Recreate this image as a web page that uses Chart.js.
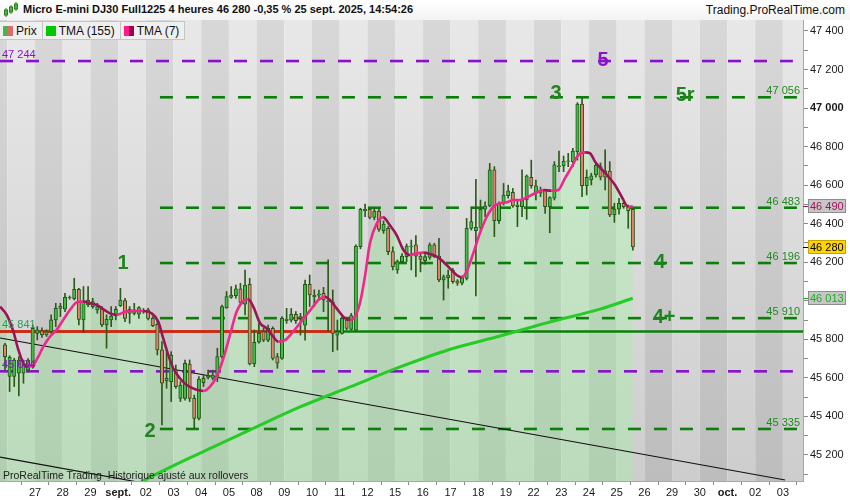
<!DOCTYPE html>
<html>
<head>
<meta charset="utf-8">
<script src="https://cdn.jsdelivr.net/npm/chart.js@4.4.1/dist/chart.umd.min.js"></script>
<style>
  html, body { margin: 0; padding: 0; background: #fff; }
  #wrap { position: relative; width: 850px; height: 500px; overflow: hidden; font-family: "Liberation Sans", Arial, sans-serif; color: #111; }
  #chart { position: absolute; left: 0; top: 0; }
  #head { position: absolute; left: 0; top: 0; width: 850px; height: 20px; background: linear-gradient(#ffffff, #f3f3f3); font-size: 12px; }
  #ico { position: absolute; left: 4px; top: 1px; }
  #title { position: absolute; left: 23px; top: 3px; font-weight: bold; font-size: 11px; white-space: nowrap; }
  #site { position: absolute; right: 5px; top: 3px; white-space: nowrap; }
  #legend { position: absolute; left: 0; top: 21px; height: 19px; display: flex; font-size: 12px; }
  .tab { display: flex; align-items: center; height: 17px; padding: 0 5px 0 3px; background: #efefef; border: 1px solid #c4c4c4; border-left: none; white-space: nowrap; }
  .sw { display: inline-flex; width: 10px; height: 10px; margin-right: 3px; }
  .sw i { flex: 1; }
  #foot { position: absolute; left: 3px; top: 469px; font-size: 10.5px; white-space: nowrap; color: #222; }
</style>
</head>
<body>
<div id="wrap">
  <canvas id="chart" width="850" height="500"></canvas>
  <div id="head">
    <svg id="ico" width="14" height="17" viewBox="0 0 14 17">
      <line x1="2" y1="7" x2="2" y2="16" stroke="#2e7d1e"/><rect x="0.5" y="9" width="3" height="5" fill="#3cbf3c" stroke="#2e7d1e"/>
      <line x1="7" y1="4" x2="7" y2="13" stroke="#2e7d1e"/><rect x="5.5" y="6" width="3" height="5" fill="#3cbf3c" stroke="#2e7d1e"/>
      <line x1="12" y1="1" x2="12" y2="10" stroke="#2e7d1e"/><rect x="10.5" y="3" width="3" height="5" fill="#3cbf3c" stroke="#2e7d1e"/>
    </svg>
    <span id="title">Micro E-mini DJ30 Full1225 4 heures 46 280 -0,35 % 25 sept. 2025, 14:54:26</span>
    <span id="site">Trading.ProRealTime.com</span>
  </div>
  <div id="legend">
    <div class="tab"><span class="sw"><i style="background:#4cb44c"></i><i style="background:#e06a6a"></i></span>Prix</div>
    <div class="tab"><span class="sw"><i style="background:#00c800"></i></span>TMA (155)</div>
    <div class="tab"><span class="sw"><i style="background:#ff1a8c"></i><i style="background:#a0004e"></i></span>TMA (7)</div>
  </div>
  <div id="foot">ProRealTime Trading &nbsp;Historique ajusté aux rollovers</div>
</div>
<script>
const FONT = '"Liberation Sans", Arial, sans-serif';

// trading days on the time axis (27 Aug -> 3 Oct), one tick per day start
const dayLabels = ['27', '28', '29', 'sept.', '02', '03', '04', '05', '08', '09', '10', '11', '12', '15',
  '16', '17', '18', '19', '22', '23', '24', '25', '26', '29', '30', 'oct.', '02', '03'];
const priceTicks = [45100, 45200, 45300, 45400, 45500, 45600, 45700, 45800, 45900, 46000, 46100, 46200,
  46300, 46400, 46500, 46600, 46700, 46800, 46900, 47000, 47100, 47200, 47300, 47400];

// 4h candles, six per day, first one is the last bar of 25 Aug
const opens = [
  45771, 45607, 45607, 45624, 45624, 45641, 45658, 45831, 45844, 45823,
  45840, 45901, 45960, 45956, 46016, 46011, 46060, 45901, 45978, 45970,
  45953, 45961, 45875, 45901, 45927, 45975, 46001, 45935, 45935, 45930,
  45950, 45953, 45909, 45878, 45745, 45584, 45581, 45641, 45494, 45494,
  45672, 45494, 45390, 45575, 45602, 45598, 45598, 45710, 45965, 46017,
  46027, 46062, 45982, 46086, 45672, 45785, 45840, 45796, 45857, 45710,
  45701, 45897, 45900, 45930, 45909, 45874, 46086, 46022, 46029, 46039,
  45995, 45995, 45822, 45831, 45900, 45852, 45848, 46281, 46468, 46475,
  46433, 46466, 46364, 46376, 46255, 46160, 46203, 46229, 46280, 46290,
  46232, 46208, 46225, 46290, 46232, 46108, 46120, 46160, 46103, 46091,
  46116, 46376, 46364, 46381, 46475, 46492, 46679, 46416, 46509, 46545,
  46563, 46489, 46489, 46523, 46641, 46558, 46558, 46575, 46489, 46532,
  46696, 46700, 46723, 46722, 46774, 47021, 46597, 46627, 46653, 46696,
  46675, 46673, 46445, 46476, 46506, 46489, 46475];
const highs = [
  45779, 45715, 45702, 45710, 45693, 45700, 45875, 45866, 45860, 45850,
  45927, 45987, 45987, 46039, 46025, 46117, 46065, 46074, 46074, 46013,
  45987, 45970, 45927, 45970, 45970, 46065, 46013, 45970, 45987, 45970,
  45960, 45961, 45918, 45901, 45788, 45736, 45736, 45667, 45581, 45693,
  45693, 45511, 45607, 45615, 45640, 45640, 45754, 45978, 46048, 46074,
  46082, 46091, 46160, 46117, 45849, 45883, 45857, 45874, 45865, 45727,
  45918, 45961, 45960, 45944, 45935, 46108, 46134, 46057, 46056, 46070,
  46212, 46056, 45900, 45918, 45915, 45935, 46290, 46480, 46502, 46480,
  46480, 46475, 46415, 46385, 46280, 46212, 46245, 46295, 46315, 46338,
  46245, 46240, 46300, 46298, 46324, 46134, 46160, 46168, 46110, 46128,
  46428, 46488, 46630, 46523, 46514, 46713, 46696, 46514, 46609, 46600,
  46583, 46523, 46679, 46653, 46730, 46627, 46590, 46578, 46540, 46722,
  46777, 46751, 46765, 46791, 47028, 47050, 46679, 46662, 46710, 46715,
  46783, 46722, 46506, 46532, 46515, 46497, 46480];
const lows = [
  45641, 45529, 45555, 45506, 45572, 45630, 45650, 45797, 45810, 45815,
  45831, 45866, 45918, 45944, 46008, 46004, 45875, 45835, 45970, 45961,
  45935, 45866, 45754, 45866, 45901, 45970, 45892, 45883, 45927, 45909,
  45935, 45901, 45866, 45719, 45356, 45546, 45477, 45546, 45477, 45485,
  45477, 45338, 45382, 45555, 45595, 45590, 45580, 45701, 45961, 46013,
  46013, 45982, 45927, 45667, 45658, 45780, 45788, 45788, 45693, 45650,
  45696, 45883, 45890, 45883, 45822, 45796, 45970, 45970, 46004, 45944,
  45840, 45736, 45745, 45827, 45850, 45848, 45840, 46270, 46437, 46425,
  46420, 46360, 46350, 46240, 46160, 46142, 46195, 46203, 46160, 46125,
  46150, 46190, 46215, 46225, 46099, 46004, 46065, 46091, 46080, 46082,
  46108, 46367, 46025, 46367, 46436, 46488, 46333, 46402, 46497, 46532,
  46485, 46385, 46437, 46423, 46584, 46523, 46540, 46454, 46353, 46523,
  46670, 46670, 46696, 46696, 46730, 46540, 46549, 46601, 46641, 46627,
  46575, 46437, 46407, 46450, 46480, 46376, 46263];
const closes = [
  45710, 45707, 45693, 45693, 45667, 45693, 45857, 45849, 45823, 45840,
  45901, 45961, 45973, 46018, 46018, 46060, 45904, 45996, 46004, 45996,
  45970, 45875, 45904, 45921, 45956, 46004, 45909, 45956, 45953, 45965,
  45945, 45909, 45871, 45745, 45572, 45598, 45719, 45555, 45563, 45676,
  45494, 45390, 45594, 45598, 45612, 45615, 45710, 45970, 46022, 46030,
  46062, 45992, 46082, 45672, 45785, 45831, 45796, 45857, 45701, 45676,
  45909, 45905, 45930, 45897, 45918, 46086, 46030, 46028, 46035, 46004,
  46000, 45831, 45840, 45909, 45857, 45923, 46284, 46475, 46475, 46433,
  46466, 46371, 46398, 46255, 46177, 46203, 46232, 46284, 46284, 46232,
  46215, 46229, 46290, 46229, 46108, 46125, 46134, 46099, 46091, 46120,
  46376, 46411, 46381, 46475, 46492, 46679, 46416, 46506, 46549, 46570,
  46492, 46497, 46523, 46648, 46597, 46597, 46570, 46489, 46535, 46705,
  46700, 46725, 46726, 46777, 47021, 46597, 46641, 46648, 46703, 46641,
  46641, 46445, 46476, 46506, 46489, 46468, 46280];

// TMA(7) (x in trading days from 27 Aug)
const tma7Days = [-1.26, -1.02, -0.78, -0.60, -0.42, -0.24, -0.06, 0.12, 0.30, 0.54, 0.78, 1.02, 1.26, 1.51,
  1.74, 1.99, 2.23, 2.47, 2.71, 2.95, 3.19, 3.43, 3.91, 4.21, 4.45, 4.63, 4.81, 4.99, 5.23, 5.48, 5.78, 6.08,
  6.32, 6.56, 6.80, 7.04, 7.28, 7.52, 7.70, 7.88, 8.12, 8.36, 8.60, 8.78, 9.03, 9.27, 9.51, 9.75, 9.99, 10.23,
  10.47, 10.65, 10.89, 11.13, 11.37, 11.55, 11.73, 11.91, 12.09, 12.34, 12.57, 12.82, 13.06, 13.30, 13.54,
  13.78, 14.02, 14.26, 14.50, 14.74, 14.98, 15.22, 15.40, 15.58, 15.82, 16.06, 16.31, 16.55, 16.79, 17.03,
  17.27, 17.51, 17.69, 18.05, 18.35, 18.65, 18.89, 19.13, 19.38, 19.61, 19.86, 20.04, 20.22, 20.46, 20.70,
  20.94, 21.18, 21.42, 21.58];
const tma7Vals = [45970, 45927, 45840, 45745, 45676, 45658, 45667, 45710, 45762, 45814, 45849, 45901, 45952,
  45992, 45996, 45987, 45978, 45956, 45935, 45927, 45939, 45947, 45947, 45935, 45892, 45805, 45719, 45650,
  45598, 45563, 45541, 45532, 45555, 45607, 45702, 45823, 45944, 45999, 46008, 45970, 45885, 45857, 45814,
  45788, 45796, 45831, 45874, 45918, 45961, 46004, 46021, 46004, 45961, 45918, 45900, 45918, 45987, 46125,
  46298, 46402, 46433, 46390, 46340, 46264, 46238, 46246, 46250, 46243, 46229, 46203, 46168, 46134, 46122,
  46151, 46246, 46350, 46436, 46488, 46506, 46511, 46523, 46523, 46532, 46558, 46575, 46571, 46575, 46635,
  46696, 46756, 46770, 46765, 46722, 46682, 46644, 46601, 46540, 46488, 46490];

// TMA(155)
const tma155Days = [3.60, 3.97, 5.96, 7.76, 9.57, 11.37, 13.18, 14.91, 16.79, 18.59, 20.40, 21.58];
const tma155Vals = [45040, 45070, 45210, 45330, 45449, 45553, 45657, 45745, 45817, 45890, 45957, 46013];

// drawn levels
const greenLevels = [47056, 46483, 46196, 45910, 45335];
const purpleLevels = [47244, 45634];
const supportLevel = 45841;
const trendA = [[-1.26, 45807], [27.08, 45070]];
const trendB = [[-1.26, 45189], [27.7, 44436]];

// wave count marks
const waveText = ['1', '2', '3', '4', '4+', '5', '5r'];
const waveDays = [3.18, 4.15, 18.81, 22.56, 22.71, 20.51, 23.47];
const waveVals = [46196, 45324, 47078, 46201, 45911, 47249, 47063];

const X_MIN = -1.2635, X_MAX = 27.726, Y_MIN = 45065, Y_MAX = 47457;
const GREEN = '#0a800a', PURPLE = '#8a10cc';

const fmt = (v) => String(Math.round(v)).replace(/\B(?=(\d{3})+(?!\d))/g, ' ');

const candleX = closes.map((c, n) => (n - 6.5) / 6);
const pts = (xs, ys) => xs.map((x, i) => ({ x, y: ys[i] }));

function level(v, from, to, color, dash, order) {
  return {
    type: 'line', data: [{ x: from, y: v }, { x: to, y: v }], borderColor: color, borderWidth: 2.6,
    borderDash: dash, pointRadius: 0, fill: false, order
  };
}

const datasets = [
  { type: 'line', data: pts(tma7Days, tma7Vals), borderWidth: 0, pointRadius: 0, fill: 'start',
    backgroundColor: 'rgba(150,250,150,0.3)', cubicInterpolationMode: 'monotone', order: 20 },
  ...greenLevels.map(v => level(v, 4.51, 27.51, GREEN, [13, 13], 12)),
  ...purpleLevels.map(v => level(v, X_MIN, 27.36, PURPLE, [13, 13], 12)),
  level(supportLevel, X_MIN, X_MAX, GREEN, [], 13),
  level(supportLevel, X_MIN, 10.83, '#ff1010', [], 11),
  { type: 'line', data: trendA.map(p => ({ x: p[0], y: p[1] })), borderColor: '#111', borderWidth: 1.1, pointRadius: 0, order: 10 },
  { type: 'line', data: trendB.map(p => ({ x: p[0], y: p[1] })), borderColor: '#111', borderWidth: 1.1, pointRadius: 0, order: 10 },
  { type: 'bar', data: candleX.map((x, i) => ({ x, y: [lows[i], highs[i]] })), backgroundColor: '#2c5a18',
    barThickness: 1, grouped: false, order: 5 },
  { type: 'bar', data: candleX.map((x, i) => ({ x, y: [opens[i], closes[i]] })),
    backgroundColor: closes.map((c, i) => c >= opens[i] ? '#3fbf3f' : '#e97e6c'),
    borderColor: '#22561a', borderWidth: 1, borderSkipped: false, barThickness: 3.4, grouped: false, order: 4 },
  { type: 'line', data: pts(tma155Days, tma155Vals), borderColor: '#25cc25', borderWidth: 3, pointRadius: 0,
    cubicInterpolationMode: 'monotone', order: 2 },
  { type: 'line', data: pts(tma7Days, tma7Vals), borderWidth: 2.6, pointRadius: 0, cubicInterpolationMode: 'monotone',
    borderColor: '#f0288c',
    segment: { borderColor: (c) => c.p1.parsed.y >= c.p0.parsed.y ? '#f0288c' : '#9c1458' }, order: 1 }
];

const backdrop = {
  id: 'backdrop',
  beforeDraw(chart) {
    const { ctx, chartArea: a, scales: { x } } = chart;
    ctx.save();
    ctx.fillStyle = '#fff';
    ctx.fillRect(0, 0, chart.width, chart.height);
    const light = ctx.createLinearGradient(0, a.top, 0, a.bottom);
    light.addColorStop(0, '#e8e8e8'); light.addColorStop(1, '#cdcdcd');
    const dark = ctx.createLinearGradient(0, a.top, 0, a.bottom);
    dark.addColorStop(0, '#d8d8d8'); dark.addColorStop(1, '#bdbdbd');
    ctx.beginPath(); ctx.rect(a.left, a.top, a.width, a.height); ctx.clip();
    for (let k = -2; k <= dayLabels.length; k++) {
      const x0 = x.getPixelForValue(k), x1 = x.getPixelForValue(k + 1);
      ctx.fillStyle = Math.abs(k % 2) === 1 ? light : dark;
      ctx.fillRect(x0, a.top, x1 - x0, a.height);
    }
    ctx.restore();
  }
};

const annotate = {
  id: 'annotate',
  afterDraw(chart) {
    const { ctx, chartArea: a, scales: { x, y } } = chart;
    ctx.save();
    ctx.font = '11px ' + FONT;
    ctx.textBaseline = 'alphabetic';
    ctx.textAlign = 'right';
    ctx.fillStyle = '#208a20';
    greenLevels.forEach(v => ctx.fillText(fmt(v), a.right - 3, y.getPixelForValue(v) - 3));
    ctx.textAlign = 'left';
    [[purpleLevels[0], PURPLE], [supportLevel, '#2c9a5c'], [purpleLevels[1], PURPLE]].forEach(([v, c]) => {
      ctx.fillStyle = c;
      ctx.fillText(fmt(v), a.left + 2, y.getPixelForValue(v) - 3);
    });

    ctx.font = 'bold 20px ' + FONT;
    ctx.textAlign = 'center';
    ctx.textBaseline = 'middle';
    waveText.forEach((t, i) => {
      ctx.fillStyle = t === '5' ? PURPLE : '#1f841f';
      ctx.fillText(t, x.getPixelForValue(waveDays[i]), y.getPixelForValue(waveVals[i]));
    });

    const boxes = [
      { v: tma7Vals[tma7Vals.length - 1], fill: '#c6c6c6', edge: '#8e8e8e', text: '#a3125e' },
      { v: closes[closes.length - 1], fill: '#ffd400', edge: '#c9a400', text: '#000' },
      { v: tma155Vals[tma155Vals.length - 1], fill: '#c6c6c6', edge: '#8e8e8e', text: '#18b018' }
    ];
    ctx.font = '11px ' + FONT;
    ctx.textAlign = 'left';
    boxes.forEach(b => {
      const py = Math.round(y.getPixelForValue(b.v));
      ctx.strokeStyle = b.text;
      ctx.lineWidth = 1;
      ctx.beginPath(); ctx.moveTo(a.right, py + 0.5); ctx.lineTo(a.right + 5, py + 0.5); ctx.stroke();
      ctx.fillStyle = b.fill;
      ctx.fillRect(a.right + 5, py - 7, 38, 14);
      ctx.strokeStyle = b.edge;
      ctx.strokeRect(a.right + 5.5, py - 6.5, 37, 13);
      ctx.fillStyle = b.text;
      ctx.fillText(fmt(b.v), a.right + 7, py + 0.5);
    });
    ctx.restore();
  }
};

Chart.defaults.font.family = FONT;

new Chart(document.getElementById('chart'), {
  type: 'line',
  data: { datasets },
  options: {
    responsive: false,
    animation: false,
    events: [],
    layout: { padding: { top: 20, left: 0, right: 0, bottom: 0 } },
    plugins: { legend: { display: false }, tooltip: { enabled: false } },
    scales: {
      x: {
        type: 'linear', min: X_MIN, max: X_MAX, offset: false,
        afterBuildTicks: (axis) => { axis.ticks = dayLabels.map((_, k) => ({ value: k })); },
        afterFit: (axis) => { axis.height = 19; },
        grid: { drawOnChartArea: false, tickLength: 4, color: '#8a8a8a' },
        border: { color: '#a8a8a8' },
        ticks: {
          autoSkip: false, maxRotation: 0, padding: 1, color: '#1a1a1a',
          font: (c) => ({ size: 11, weight: /\./.test(dayLabels[c.tick && c.tick.value] || '') ? 'bold' : 'normal' }),
          callback: (v) => dayLabels[v] ?? ''
        }
      },
      y: {
        type: 'linear', position: 'right', min: Y_MIN, max: Y_MAX,
        afterBuildTicks: (axis) => { axis.ticks = priceTicks.map(v => ({ value: v })); },
        afterFit: (axis) => { axis.width = 47; },
        grid: { drawOnChartArea: false, tickLength: 5, color: '#8a8a8a' },
        border: { color: '#a8a8a8' },
        ticks: {
          autoSkip: false, padding: 2, color: '#1a1a1a',
          font: (c) => ({ size: 11, weight: c.tick && c.tick.value % 1000 === 0 ? 'bold' : 'normal' }),
          callback: (v) => v % 200 === 0 ? fmt(v) : ''
        }
      }
    }
  },
  plugins: [backdrop, annotate]
});
</script>
</body>
</html>
